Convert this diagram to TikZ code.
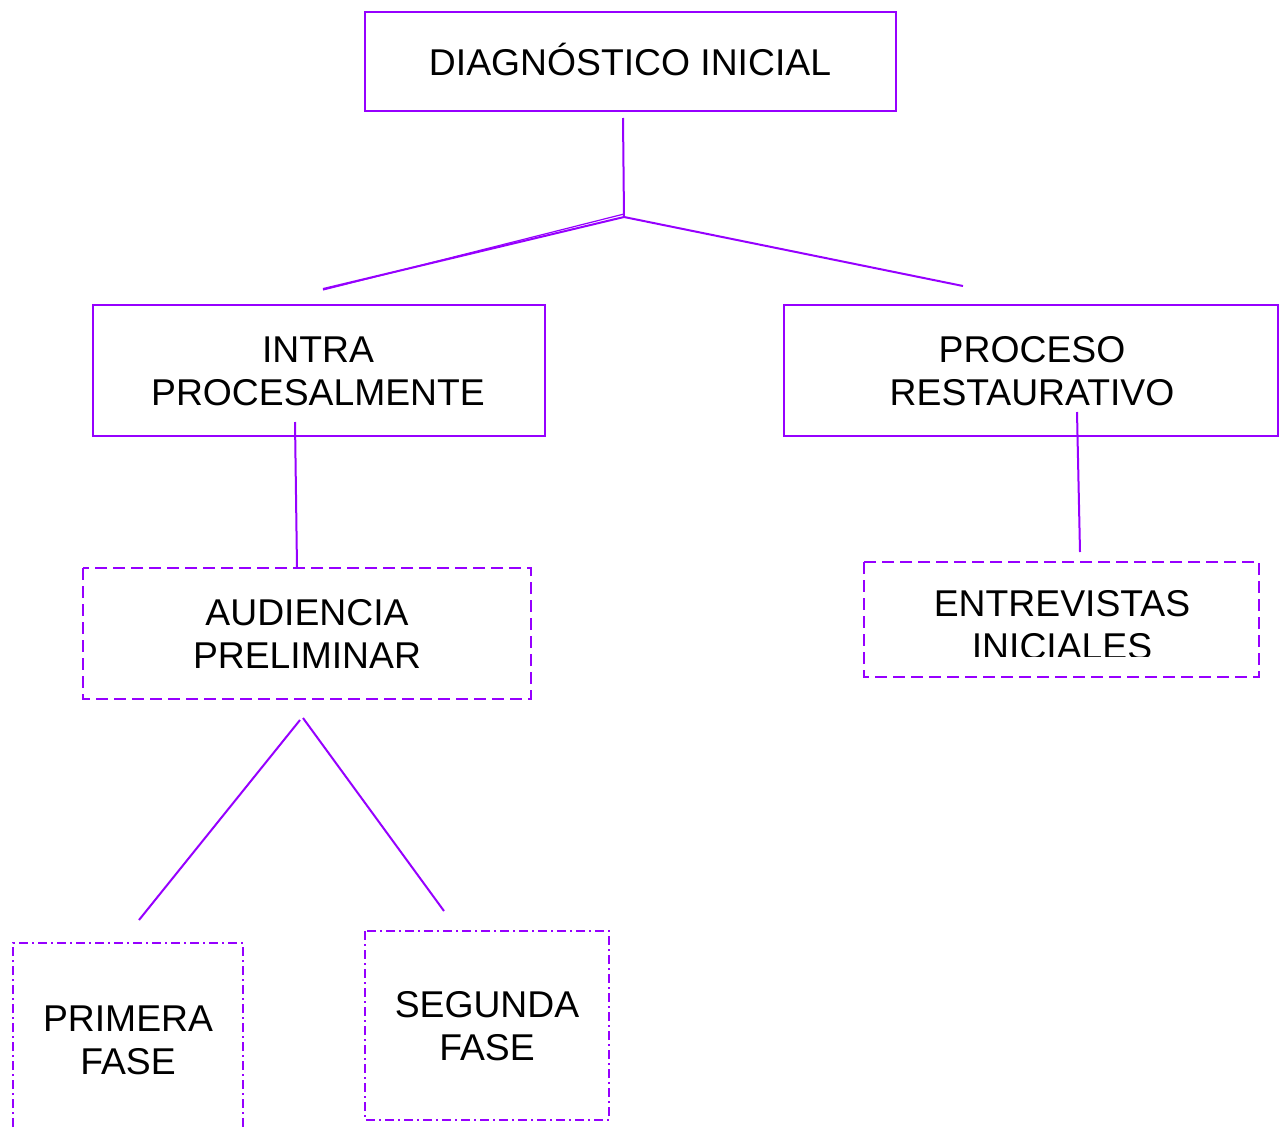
\documentclass[tikz,border=0pt]{standalone}
\usepackage{fontspec}
\setmainfont{Liberation Sans}
\definecolor{vio}{RGB}{150,0,255}
\begin{document}
\begin{tikzpicture}[x=1pt,y=-1pt,
  solidbox/.style={draw=vio,line width=2pt},
  dashbox/.style={draw=vio,line width=2pt,dash pattern=on 12pt off 6pt},
  dotbox/.style={draw=vio,line width=2pt,dash pattern=on 9pt off 4pt on 2pt off 4pt},
  conn/.style={draw=vio,line width=2pt},
  lbl/.style={font=\fontsize{37.3}{43}\selectfont,align=center,inner sep=0pt,text=black}]
\useasboundingbox (0,0) rectangle (1279,1127);
% boxes
\draw[solidbox] (365,12) rectangle (896,111);
\draw[solidbox] (93,305) rectangle (545,436);
\draw[solidbox] (784,305) rectangle (1278,436);
\draw[dashbox] (83,568) rectangle (531,699);
\draw[dashbox] (864,562) rectangle (1259,677);
\draw[dotbox] (13,1127) -- (13,943) -- (243,943) -- (243,1127);
\draw[dotbox] (365,931) rectangle (609,1120);
% labels
\node[lbl] (diag) at (630,60) {DIAGNÓSTICO INICIAL};
\node[lbl] (intra) at (318,371) {INTRA\\PROCESALMENTE};
\node[lbl] (proc) at (1032,371) {PROCESO\\RESTAURATIVO};
\node[lbl] (aud) at (307,634) {AUDIENCIA\\PRELIMINAR};
\begin{scope}
\clip (864,562) rectangle (1259,656.6);
\node[lbl] (entr) at (1062,625) {ENTREVISTAS\\INICIALES};
\end{scope}
\node[lbl] (prim) at (128,1040) {PRIMERA\\FASE};
\node[lbl] (seg) at (487,1026) {SEGUNDA\\FASE};
% connector points
\coordinate (d0) at (623,118);
\coordinate (dj) at (624,217);
\coordinate (dl) at (323,289);
\coordinate (dr) at (963,286);
\coordinate (i0) at (295,422);
\coordinate (i1) at (297,568);
\coordinate (p0) at (1077,412);
\coordinate (p1) at (1080,552);
\coordinate (a0) at (300,720);
\coordinate (a1) at (303,718);
\coordinate (f1) at (139,920);
\coordinate (f2) at (444,911);
% connectors
\draw[conn] (d0) -- (dj);
\draw[conn] (dj) -- (dl);
\draw[conn,line width=1.2pt] ([yshift=3pt]dj) -- ([yshift=-1pt]dl);
\draw[conn] (dj) -- (dr);
\draw[conn] (i0) -- (i1);
\draw[conn] (p0) -- (p1);
\draw[conn] (a0) -- (f1);
\draw[conn] (a1) -- (f2);
\end{tikzpicture}
\end{document}
